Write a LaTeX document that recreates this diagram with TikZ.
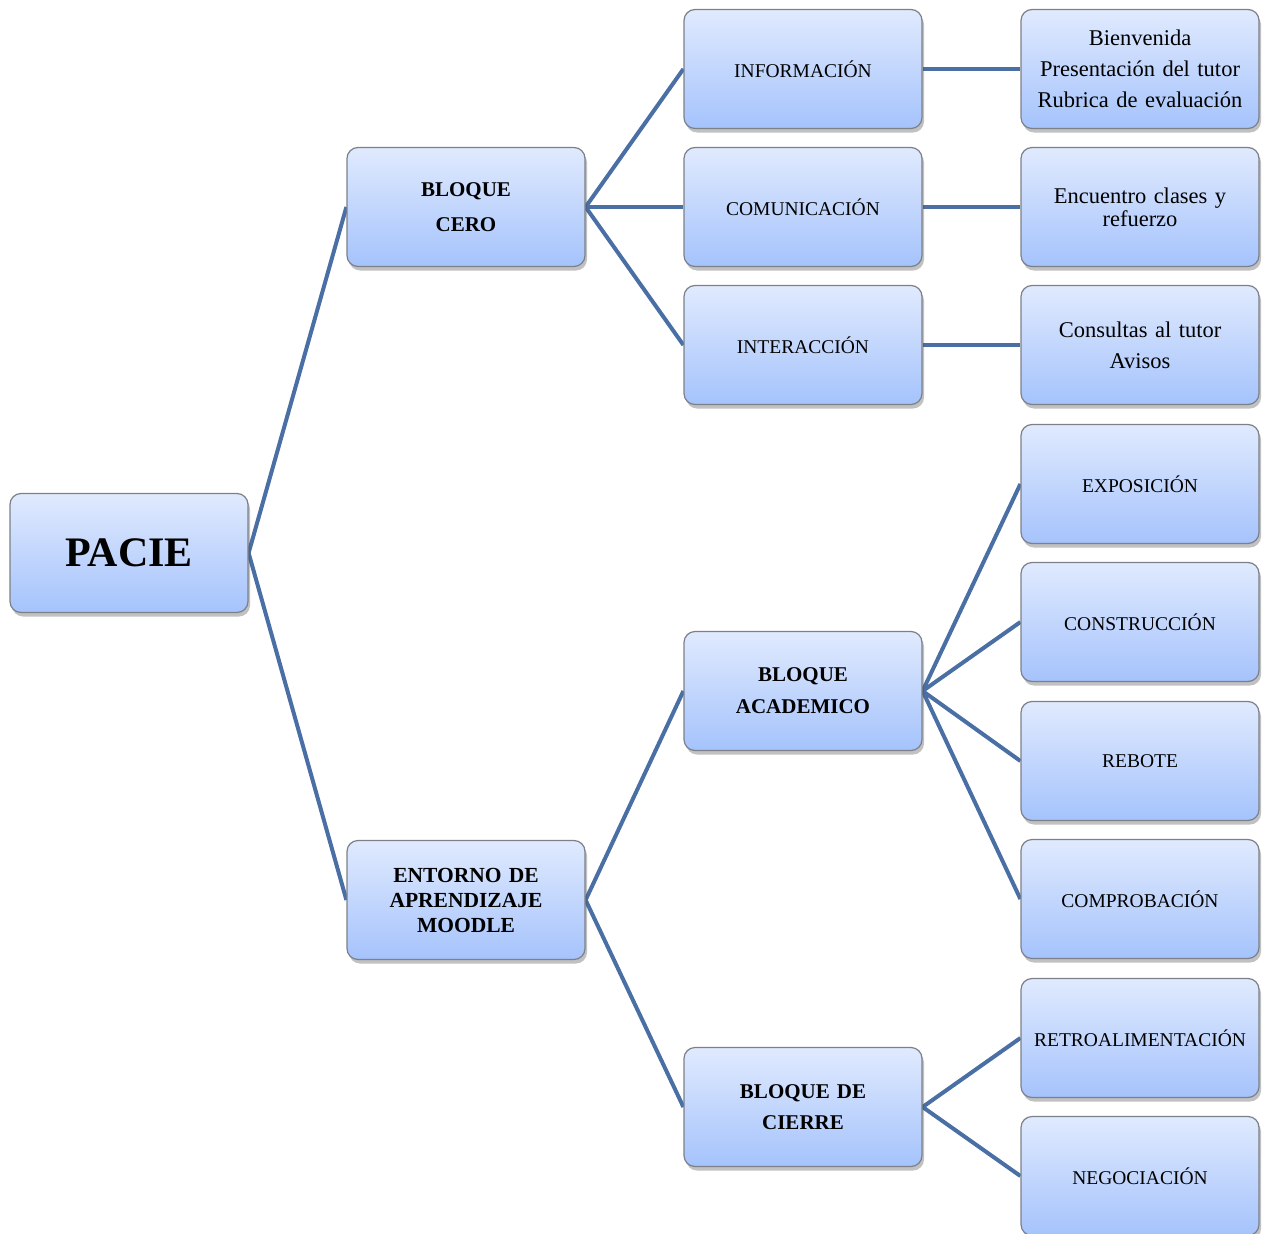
\documentclass[tikz,border=0pt]{standalone}
\usepackage{fontspec}
\setmainfont{Liberation Serif}
\usetikzlibrary{shadows,backgrounds}
\definecolor{topc}{HTML}{E0EAFE}
\definecolor{botc}{HTML}{A5C3FC}
\definecolor{edgec}{HTML}{7C8088}
\definecolor{linkc}{HTML}{4A6FA5}
\tikzset{
  box/.style={draw=edgec, line width=1.2pt, rounded corners=11pt,
    top color=topc, bottom color=botc,
    minimum width=238pt, minimum height=119pt, inner sep=2pt,
    align=center, text width=230pt,
    drop shadow={shadow xshift=2pt, shadow yshift=-4pt, opacity=0.35, fill=black!70},
    font=\fontsize{19.5}{31}\selectfont},
  mixbox/.style={box, font=\fontsize{22.5}{31}\selectfont},
  boldbox/.style={box, font=\fontsize{21}{33}\selectfont\bfseries},
  link/.style={draw=linkc, line width=4pt}
}
\begin{document}
\begin{tikzpicture}[x=1pt,y=-1pt]
\useasboundingbox (0,0) rectangle (1270,1234);
% column 1
\node[box, font=\fontsize{42}{48}\selectfont\bfseries] (pacie) at (129,553) {PACIE};
% column 2
\node[boldbox, font=\fontsize{21}{35}\selectfont\bfseries] (cero) at (466,207) {BLOQUE\\CERO};
\node[boldbox, font=\fontsize{21.5}{25}\selectfont\bfseries] (entorno) at (466,900) {ENTORNO DE\\APRENDIZAJE\\MOODLE};
% column 3
\node[box] (info) at (803,69) {INFORMACIÓN};
\node[box] (comu) at (803,207) {COMUNICACIÓN};
\node[box] (inter) at (803,345) {INTERACCIÓN};
\node[boldbox, font=\fontsize{21}{32}\selectfont\bfseries] (acad) at (803,691) {BLOQUE\\ACADEMICO};
\node[boldbox, font=\fontsize{21}{31}\selectfont\bfseries] (cierre) at (803,1107) {BLOQUE DE\\CIERRE};
% column 4
\node[mixbox] (bien) at (1140,69) {Bienvenida\\Presentación del tutor\\Rubrica de evaluación};
\node[mixbox, font=\fontsize{22.5}{23}\selectfont] (encu) at (1140,207) {Encuentro clases y\\refuerzo};
\node[mixbox] (cons) at (1140,345) {Consultas al tutor\\Avisos};
\node[box] (expo) at (1140,484) {EXPOSICIÓN};
\node[box] (cons2) at (1140,622) {CONSTRUCCIÓN};
\node[box] (rebo) at (1140,761) {REBOTE};
\node[box] (comp) at (1140,899) {COMPROBACIÓN};
\node[box] (retro) at (1140,1038) {RETROALIMENTACIÓN};
\node[box] (nego) at (1140,1176) {NEGOCIACIÓN};
\begin{pgfonlayer}{background}
\draw[link] (pacie.east) -- (cero.west);
\draw[link] (pacie.east) -- (entorno.west);
\draw[link] (cero.east) -- (info.west);
\draw[link] (cero.east) -- (comu.west);
\draw[link] (cero.east) -- (inter.west);
\draw[link] (entorno.east) -- (acad.west);
\draw[link] (entorno.east) -- (cierre.west);
\draw[link] (info.east) -- (bien.west);
\draw[link] (comu.east) -- (encu.west);
\draw[link] (inter.east) -- (cons.west);
\draw[link] (acad.east) -- (expo.west);
\draw[link] (acad.east) -- (cons2.west);
\draw[link] (acad.east) -- (rebo.west);
\draw[link] (acad.east) -- (comp.west);
\draw[link] (cierre.east) -- (retro.west);
\draw[link] (cierre.east) -- (nego.west);
\end{pgfonlayer}
\end{tikzpicture}
\end{document}
